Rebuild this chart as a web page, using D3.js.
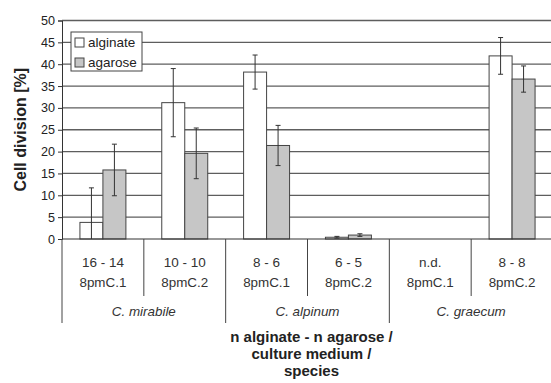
<!DOCTYPE html>
<html>
<head>
<meta charset="utf-8" />
<style>
body { margin: 0; background: white; }
svg { display: block; font-family: "Liberation Sans", Arial, sans-serif; }
</style>
<script src="https://cdnjs.cloudflare.com/ajax/libs/d3/7.8.5/d3.min.js"></script>
</head>
<body>
<div id="chart"></div>
<script>
// data
var counts   = ["16 - 14", "10 - 10", "8 - 6", "6 - 5", "n.d.", "8 - 8"];
var media    = ["8pmC.1", "8pmC.2", "8pmC.1", "8pmC.2", "8pmC.1", "8pmC.2"];
var species  = ["C. mirabile", "C. alpinum", "C. graecum"];
var series   = ["alginate", "agarose"];
var alginate = [3.8, 31.2, 38.2, 0.4, null, 41.9];
var alginateErr = [7.9, 7.8, 3.9, 0.2, null, 4.2];
var agarose  = [15.8, 19.6, 21.4, 0.9, null, 36.6];
var agaroseErr = [5.9, 5.8, 4.6, 0.3, null, 3.0];
var yTicks = [0, 5, 10, 15, 20, 25, 30, 35, 40, 45, 50];
var titleLines = ["n alginate - n agarose /", "culture medium /", "species"];

var W = 551, H = 383;
// note: "top" is taken by window.top, so use plot* names
var plotLeft = 62, plotRight = 553, plotTop = 20.5, plotBottom = 239;

var svg = d3.select("#chart").append("svg")
  .attr("width", W).attr("height", H);

var y = d3.scaleLinear().domain([0, 50]).range([plotBottom, plotTop]);
var x0 = d3.scaleBand().domain(d3.range(counts.length)).range([plotLeft, plotRight]);
var x1 = d3.scaleBand().domain(series).range([0, x0.bandwidth()]).paddingOuter(0.78);
var fills = { alginate: "#ffffff", agarose: "#c6c6c6" };

// gridlines
svg.append("g").selectAll("line")
  .data(yTicks.filter(function(d) { return d > 0; }))
  .enter().append("line")
  .attr("x1", plotLeft).attr("x2", plotRight)
  .attr("y1", function(d) { return y(d); }).attr("y2", function(d) { return y(d); })
  .attr("stroke", "#5e5e5e").attr("stroke-width", 1.3);

// y axis
var yAxis = svg.append("g")
  .attr("transform", "translate(" + plotLeft + ",0)")
  .call(d3.axisLeft(y).tickValues(yTicks).tickSize(4).tickPadding(3));
yAxis.select(".domain").attr("stroke", "#333");
yAxis.selectAll(".tick line").attr("stroke", "#333");
yAxis.selectAll("text").attr("font-size", "12.6px").attr("fill", "#222")
  .attr("font-family", "Liberation Sans, Arial, sans-serif");

svg.append("text")
  .attr("transform", "translate(26," + ((plotTop + plotBottom) / 2) + ")rotate(-90)")
  .attr("text-anchor", "middle")
  .attr("font-size", "16px").attr("font-weight", "bold").attr("fill", "#222")
  .text("Cell division [%]");

// bars
var rows = [];
counts.forEach(function(c, i) {
  rows.push({ i: i, s: "alginate", v: alginate[i], e: alginateErr[i] });
  rows.push({ i: i, s: "agarose", v: agarose[i], e: agaroseErr[i] });
});
rows = rows.filter(function(d) { return d.v != null; });

svg.append("g").selectAll("rect")
  .data(rows).enter().append("rect")
  .attr("x", function(d) { return x0(d.i) + x1(d.s); })
  .attr("y", function(d) { return y(d.v); })
  .attr("width", x1.bandwidth())
  .attr("height", function(d) { return y(0) - y(d.v); })
  .attr("fill", function(d) { return fills[d.s]; })
  .attr("stroke", "#444").attr("stroke-width", 1);

// error bars
var eb = svg.append("g").attr("stroke", "#333").attr("stroke-width", 1);
rows.forEach(function(d) {
  var cx = x0(d.i) + x1(d.s) + x1.bandwidth() / 2;
  var lo = Math.max(0, d.v - d.e), hi = d.v + d.e;
  eb.append("line").attr("x1", cx).attr("x2", cx).attr("y1", y(lo)).attr("y2", y(hi));
  eb.append("line").attr("x1", cx - 2.5).attr("x2", cx + 2.5).attr("y1", y(hi)).attr("y2", y(hi));
  if (d.v - d.e > 0)
    eb.append("line").attr("x1", cx - 2.5).attr("x2", cx + 2.5).attr("y1", y(lo)).attr("y2", y(lo));
});

// x axis line
svg.append("line").attr("x1", plotLeft).attr("x2", plotRight)
  .attr("y1", plotBottom).attr("y2", plotBottom).attr("stroke", "#333").attr("stroke-width", 1.2);

// category table under the axis
var tbl = svg.append("g").attr("stroke", "#444").attr("stroke-width", 1);
d3.range(counts.length + 1).forEach(function(k) {
  var xx = k < counts.length ? x0(k) : plotRight;
  var len = (k % 2 === 0) ? 323 : 296;
  tbl.append("line").attr("x1", xx).attr("x2", xx).attr("y1", plotBottom).attr("y2", len);
});

var lab = svg.append("g").attr("text-anchor", "middle").attr("fill", "#333");
counts.forEach(function(c, i) {
  var cx = x0(i) + x0.bandwidth() / 2;
  lab.append("text").attr("x", cx).attr("y", 267).attr("font-size", "13.5px").text(c);
  lab.append("text").attr("x", cx).attr("y", 287).attr("font-size", "13.4px").text(media[i]);
});
species.forEach(function(s, j) {
  var cx = x0(j * 2 + 1);
  lab.append("text").attr("x", cx).attr("y", 316).attr("font-size", "13.4px")
    .attr("font-style", "italic").text(s);
});

titleLines.forEach(function(t, j) {
  svg.append("text")
    .attr("x", (plotLeft + plotRight) / 2 + 4).attr("y", 342 + j * 17)
    .attr("text-anchor", "middle").attr("font-size", "15px").attr("font-weight", "bold")
    .attr("fill", "#222").text(t);
});

// legend
var lg = svg.append("g").attr("transform", "translate(71,32)");
lg.append("rect").attr("width", 71).attr("height", 39)
  .attr("fill", "white").attr("stroke", "#444").attr("stroke-width", 1);
series.forEach(function(s, j) {
  lg.append("rect").attr("x", 4).attr("y", 6 + j * 20).attr("width", 9).attr("height", 9)
    .attr("fill", fills[s]).attr("stroke", "#444");
  lg.append("text").attr("x", 17).attr("y", 15 + j * 20)
    .attr("font-size", "13.5px").attr("fill", "#222").text(s);
});
</script>
</body>
</html>
